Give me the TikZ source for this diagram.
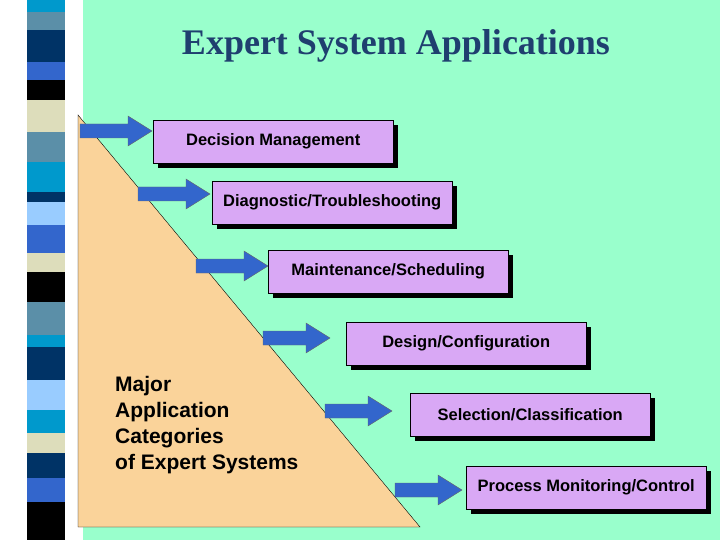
\documentclass[tikz,border=0pt]{standalone}
\usepackage{fontspec}
\setmainfont{Liberation Sans}
\newfontfamily\titlefont{Liberation Serif}
\definecolor{bg}{HTML}{99FFCC}
\definecolor{tri}{HTML}{FAD39A}
\definecolor{boxc}{HTML}{D9A8F5}
\definecolor{arr}{HTML}{3366CC}
\definecolor{titlec}{HTML}{1F3F6F}
\definecolor{sA}{HTML}{0099CC}\definecolor{sB}{HTML}{5B8FA8}\definecolor{sC}{HTML}{003366}
\definecolor{sD}{HTML}{3366CC}\definecolor{sE}{HTML}{000000}\definecolor{sF}{HTML}{DDDDBB}
\definecolor{sG}{HTML}{99CCFF}
\tikzset{
 appbox/.style={draw=black,fill=boxc,minimum height=43pt,minimum width=240pt,font=\fontsize{16.5}{20}\selectfont\bfseries,inner sep=2pt},
 bigarrow/.style={draw=black!60,fill=arr}
}
\begin{document}
\begin{tikzpicture}[x=1pt,y=-1pt]
\useasboundingbox (0,0) rectangle (720,540);
\fill[white] (0,0) rectangle (720,540);
\fill[bg] (83,0) rectangle (720,540);
\foreach \a/\b/\c in {0/12/sA,12/30/sB,30/62/sC,62/80/sD,80/100/sE,100/132/sF,132/162/sB,162/192/sA,192/202/sC,202/225/sG,225/253/sD,253/272/sF,272/302/sE,302/335/sB,335/347/sA,347/380/sC,380/410/sG,410/433/sA,433/453/sF,453/478/sC,478/502/sD,502/540/sE}
  \fill[\c] (27,\a) rectangle (65,\b);
\node[font=\titlefont\fontsize{36}{40}\selectfont\bfseries,text=titlec] (title) at (396,46) {Expert System Applications};
\draw[black,fill=tri] (78,115) -- (78,527) -- (420,527) -- cycle;
\node[align=left,anchor=north west,font=\fontsize{21}{26}\selectfont\bfseries,inner sep=0pt] (lbl) at (115,376) {Major\\Application\\Categories\\of Expert Systems};
\foreach \n/\x/\y/\ax/\aw/\ay/\t in {1/153/120/80/72/131/{Decision Management},2/212/181/138/72/194/{Diagnostic/Troubleshooting},3/268/250/196/72/266/{Maintenance/Scheduling},4/346/322/263/67/338/{Design/Configuration},5/410/393/325/67/411/{Selection/Classification},6/466/466/395/67/490/{Process Monitoring/Control}}{
  \fill[black] (\x+5,\y+5) rectangle (\x+245,\y+48);
  \node[appbox,anchor=north west] (b\n) at (\x,\y) {\t};
  \draw[bigarrow] (\ax,\ay-7) -- (\ax+\aw-24,\ay-7) -- (\ax+\aw-24,\ay-15) -- (\ax+\aw,\ay) -- (\ax+\aw-24,\ay+15) -- (\ax+\aw-24,\ay+7) -- (\ax,\ay+7) -- cycle;
}
\end{tikzpicture}
\end{document}
